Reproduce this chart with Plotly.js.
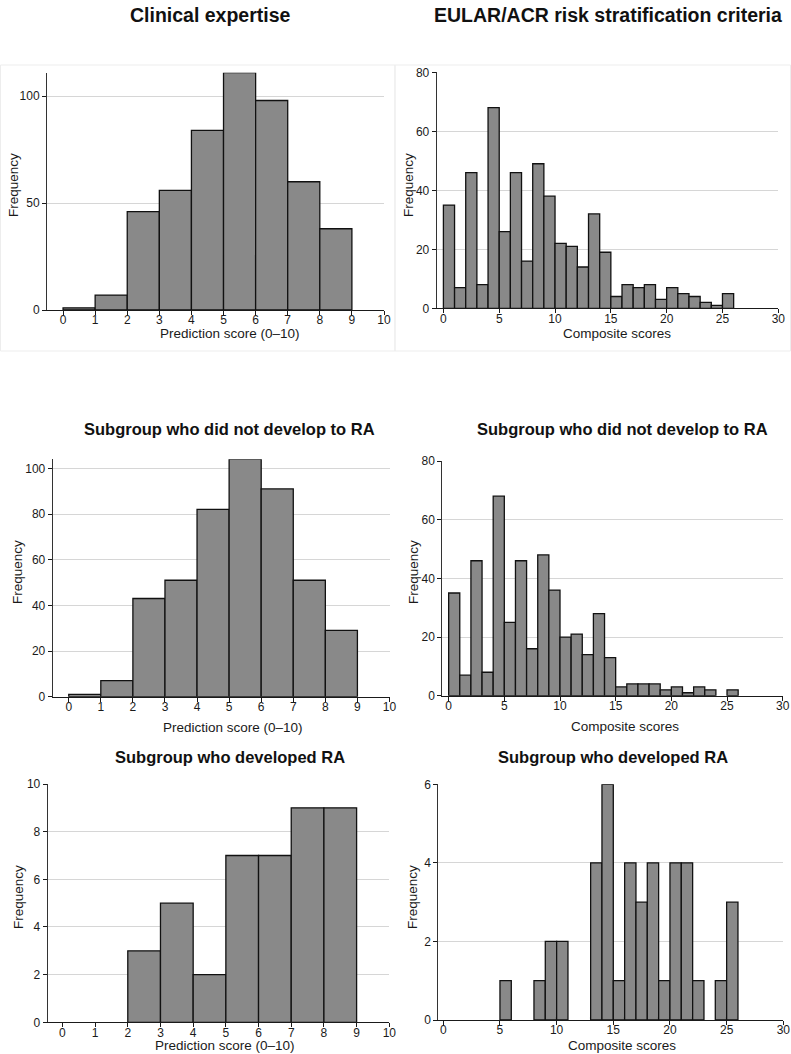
<!DOCTYPE html>
<html>
<head>
<meta charset="utf-8">
<script src="https://cdn.plot.ly/plotly-3.0.1.min.js"></script>
<style>
  html, body { margin: 0; padding: 0; background: #ffffff; }
  #chart { width: 791px; height: 1054px; }
</style>
</head>
<body>
<div id="chart"></div>
<script>
// Histogram bins (lower edges, width 1)
const predictionBins = [0, 1, 2, 3, 4, 5, 6, 7, 8, 9];
const compositeBins = [0, 1, 2, 3, 4, 5, 6, 7, 8, 9, 10, 11, 12, 13, 14, 15, 16, 17, 18, 19, 20, 21, 22, 23, 24, 25];

// Clinical expertise prediction scores (0–10)
const predAll   = [1, 7, 46, 56, 84, 111, 98, 60, 38, 0];
const predNoRA  = [1, 7, 43, 51, 82, 104, 91, 51, 29, 0];
const predRA    = [0, 0, 3, 5, 2, 7, 7, 9, 9, 0];

// EULAR/ACR composite scores
const compAll  = [35, 7, 46, 8, 68, 26, 46, 16, 49, 38, 22, 21, 14, 32, 19, 4, 8, 7, 8, 3, 7, 5, 4, 2, 1, 5];
const compNoRA = [35, 7, 46, 8, 68, 25, 46, 16, 48, 36, 20, 21, 14, 28, 13, 3, 4, 4, 4, 2, 3, 1, 3, 2, 0, 2];
const compRA   = [0, 0, 0, 0, 0, 1, 0, 0, 1, 2, 2, 0, 0, 4, 6, 1, 4, 3, 4, 1, 4, 4, 1, 0, 1, 3];

// Text
const columnTitles = ['Clinical expertise', 'EULAR/ACR risk stratification criteria'];
const rowTitles = ['Subgroup who did not develop to RA', 'Subgroup who developed RA'];
const predLabel = 'Prediction score (0–10)';
const compLabel = 'Composite scores';
const yLabel = 'Frequency';

const W = 791, H = 1054;
const px = v => v / W;
const py = v => 1 - v / H;

const BAR_FILL = '#898989';
const BAR_LINE = '#111111';
const FONT = 'Liberation Sans, Arial, sans-serif';

// Panel geometry in page pixels: [left, right, top, bottom]
const panels = [
  { bins: predictionBins, counts: predAll,  box: [47, 384, 72.7, 310],     xr: [-0.5, 10],   yr: [0, 111], xt: [0,1,2,3,4,5,6,7,8,9,10], yt: [0, 50, 100],            xlab: predLabel, xlabPos: [230, 333],  ylabPos: [13, 185] },
  { bins: compositeBins,  counts: compAll,  box: [436.7, 778.3, 72.3, 308.3], xr: [-0.6, 30], yr: [0, 80],  xt: [0,5,10,15,20,25,30],     yt: [0, 20, 40, 60, 80],     xlab: compLabel, xlabPos: [617, 333],  ylabPos: [408, 185] },
  { bins: predictionBins, counts: predNoRA, box: [52.7, 389.5, 459.2, 696.7], xr: [-0.5, 10], yr: [0, 104], xt: [0,1,2,3,4,5,6,7,8,9,10], yt: [0, 20, 40, 60, 80, 100], xlab: predLabel, xlabPos: [233, 727],  ylabPos: [17, 572] },
  { bins: compositeBins,  counts: compNoRA, box: [442.3, 782.7, 461, 695.7],  xr: [-0.57, 30], yr: [0, 80], xt: [0,5,10,15,20,25,30],     yt: [0, 20, 40, 60, 80],     xlab: compLabel, xlabPos: [625, 726],  ylabPos: [413, 572] },
  { bins: predictionBins, counts: predRA,   box: [47.7, 389.3, 784, 1022.3],  xr: [-0.45, 10], yr: [0, 10], xt: [0,1,2,3,4,5,6,7,8,9,10], yt: [0, 2, 4, 6, 8, 10],     xlab: predLabel, xlabPos: [225, 1045], ylabPos: [18, 897] },
  { bins: compositeBins,  counts: compRA,   box: [438.3, 783.3, 784.3, 1020], xr: [-0.44, 30], yr: [0, 6],  xt: [0,5,10,15,20,25,30],     yt: [0, 2, 4, 6],            xlab: compLabel, xlabPos: [622, 1045], ylabPos: [412, 897] }
];

const traces = [];
const layout = {
  width: W, height: H,
  margin: { l: 0, r: 0, t: 0, b: 0 },
  paper_bgcolor: '#ffffff',
  plot_bgcolor: 'rgba(0,0,0,0)',
  showlegend: false,
  bargap: 0,
  font: { family: FONT, color: '#1a1a1a', size: 11 },
  annotations: [],
  shapes: []
};

panels.forEach((p, i) => {
  const n = i + 1;
  const xa = n === 1 ? 'x' : 'x' + n;
  const ya = n === 1 ? 'y' : 'y' + n;
  // keep only non-empty bins so empty bins draw nothing
  const xs = [], ys = [];
  p.bins.forEach((b, k) => {
    if (p.counts[k] > 0) { xs.push(b + 0.5); ys.push(p.counts[k]); }
  });
  traces.push({
    type: 'bar', x: xs, y: ys, width: 1,
    xaxis: xa, yaxis: ya,
    marker: { color: BAR_FILL, line: { color: BAR_LINE, width: 1.3 } },
    hoverinfo: 'x+y'
  });

  const [l, r, t, b] = p.box;
  layout['xaxis' + (n === 1 ? '' : n)] = {
    domain: [px(l), px(r)], anchor: ya,
    range: p.xr, tickmode: 'array', tickvals: p.xt, ticktext: p.xt.map(String),
    showgrid: false, zeroline: false,
    showline: true, linecolor: '#1a1a1a', linewidth: 1,
    ticks: 'outside', ticklen: 4, tickcolor: '#1a1a1a', tickwidth: 1,
    ticklabelstandoff: -5,
    tickfont: { size: 12, color: '#1a1a1a', family: FONT },
    fixedrange: true
  };
  layout['yaxis' + (n === 1 ? '' : n)] = {
    domain: [py(b), py(t)], anchor: xa,
    range: p.yr, tickmode: 'array', tickvals: p.yt, ticktext: p.yt.map(String),
    showgrid: true, gridcolor: '#d6d6d6', gridwidth: 1, zeroline: false,
    showline: true, linecolor: '#333333', linewidth: 1,
    ticks: 'outside', ticklen: 4, tickcolor: '#1a1a1a', tickwidth: 1,
    tickfont: { size: 12, color: '#1a1a1a', family: FONT },
    fixedrange: true
  };

  layout.annotations.push({
    xref: 'paper', yref: 'paper', x: px(p.xlabPos[0]), y: py(p.xlabPos[1]),
    xanchor: 'center', yanchor: 'middle', showarrow: false,
    text: p.xlab, font: { size: 13.5, color: '#1a1a1a', family: FONT }
  });
  layout.annotations.push({
    xref: 'paper', yref: 'paper', x: px(p.ylabPos[0]), y: py(p.ylabPos[1]),
    xanchor: 'center', yanchor: 'middle', showarrow: false, textangle: -90,
    text: yLabel, font: { size: 13.5, color: '#1a1a1a', family: FONT }
  });
});

// Column headings
[[210, columnTitles[0]], [608, columnTitles[1]]].forEach(([x, txt]) => {
  layout.annotations.push({
    xref: 'paper', yref: 'paper', x: px(x), y: py(15),
    xanchor: 'center', yanchor: 'middle', showarrow: false,
    text: '<b>' + txt + '</b>',
    font: { size: 19.5, color: '#111111', family: 'Liberation Sans Narrow, Arial Narrow, sans-serif' }
  });
});

// Subgroup headings
[[229, 429, rowTitles[0]], [622, 429, rowTitles[0]], [230, 757, rowTitles[1]], [613, 757, rowTitles[1]]].forEach(([x, y, txt]) => {
  layout.annotations.push({
    xref: 'paper', yref: 'paper', x: px(x), y: py(y),
    xanchor: 'center', yanchor: 'middle', showarrow: false,
    text: '<b>' + txt + '</b>',
    font: { size: 16.5, color: '#111111', family: FONT }
  });
});

// Faint frames around the two overall panels
[[0.5, 395], [395, 790.5]].forEach(([x0, x1]) => {
  layout.shapes.push({
    type: 'rect', xref: 'paper', yref: 'paper',
    x0: px(x0), x1: px(x1), y0: py(351), y1: py(65),
    line: { color: '#ededed', width: 1 }, fillcolor: 'rgba(0,0,0,0)', layer: 'below'
  });
});

Plotly.newPlot('chart', traces, layout, { staticPlot: true, displayModeBar: false });
</script>
</body>
</html>
